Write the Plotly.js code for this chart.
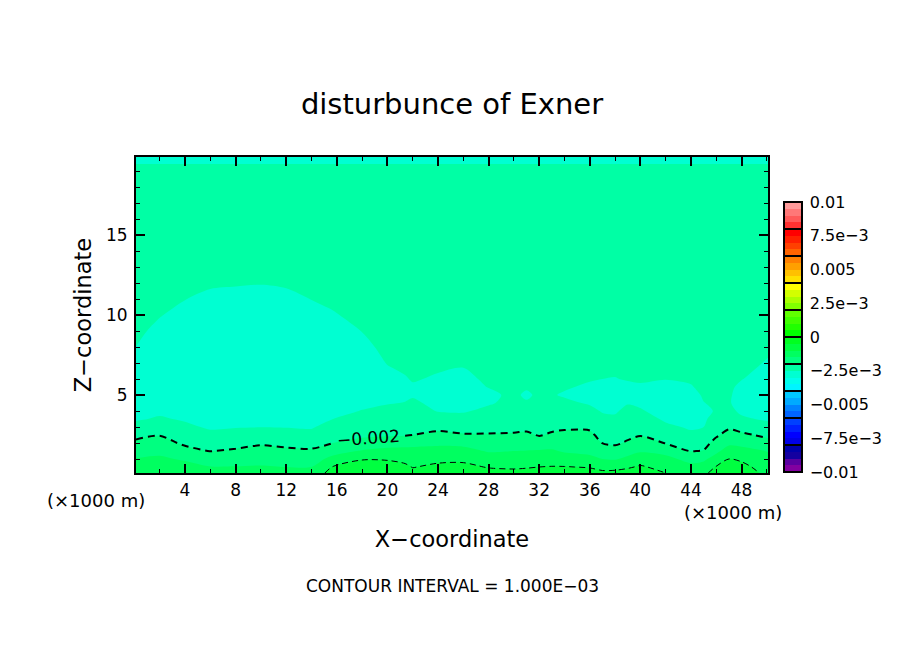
<!DOCTYPE html>
<html><head><meta charset="utf-8">
<script src="https://cdn.plot.ly/plotly-3.0.1.min.js"></script>
<style>html,body{margin:0;padding:0;background:#fff}</style></head>
<body><div id="chart" style="width:904px;height:654px"></div>
<script>
const xCoord = [0.125,2,4,6,8,10,12,14,15.7,18,20,21.4,22,24,26,28,30,31,32,33,34,36,37,38,39,40,42,44,45,46,47,48,50.09];
const zCoord = [0.125,0.5,1,1.5,2,2.5,3,3.5,4,4.5,5,5.5,6,7,8,9,10,11,12,13,16,19,19.875];
// Exner disturbance in units of 1e-4, one list per x position, bottom to top
const exnerColumns = [
[-11.1,-12.7,-14.8,-16.9,-19.0,-21.25,-23.75,-25.4,-26.2,-27,-27.3,-27.2,-26.8,-25.9,-25.02,-24.4,-24,-23.7,-23.5,-23.3,-22.8,-24,-26],
[-10.7,-12.2,-14.2,-16.2,-18.2,-20.2,-22.4,-24.6,-25.7,-26.5,-27.2,-27.6,-27.7,-27.3,-26.4,-25.7,-24.85,-24.3,-24.1,-23.7,-22.8,-24,-26],
[-11.5,-13.2,-15.6,-18.5,-20.8,-22.5,-24.2,-25.4,-26.2,-26.9,-27.5,-27.9,-28,-28,-27.4,-26.7,-25.9,-24.95,-24.4,-24,-22.8,-24,-26],
[-13.3,-14.8,-17.4,-20.1,-22,-24,-25.5,-26.3,-27,-27.5,-27.9,-28.2,-28.4,-28.5,-28,-27.2,-26.3,-25.5,-24.7,-24.1,-22.8,-24,-26],
[-13.3,-14.8,-17.1,-19.4,-21.5,-23.4,-25.2,-26.1,-26.8,-27.4,-27.9,-28.2,-28.5,-28.6,-28.2,-27.4,-26.5,-25.7,-24.8,-24.1,-22.8,-24,-26],
[-13.1,-14.6,-16.6,-18.5,-20.6,-22.9,-25.1,-26,-26.7,-27.3,-27.8,-28.1,-28.4,-28.6,-28.2,-27.5,-26.6,-25.8,-24.9,-24.1,-22.8,-24,-26],
[-13.5,-15,-17.05,-19.1,-21.2,-23.3,-25.2,-26,-26.7,-27.2,-27.6,-27.9,-28.1,-28.2,-27.9,-27.2,-26.4,-25.6,-24.7,-24.1,-22.8,-24,-26],
[-13.5,-15,-17.2,-19.4,-21.5,-23.7,-25.4,-26.1,-26.6,-27,-27.3,-27.6,-27.7,-27.6,-27.2,-26.6,-25.8,-24.95,-24.4,-24,-22.8,-24,-26],
[-7.9,-9.75,-13.5,-16.9,-20,-21.7,-23.3,-25,-25.8,-26.5,-27,-27.3,-27.4,-27.1,-26.5,-25.9,-25.2,-24.5,-24.1,-23.7,-22.8,-24,-26],
[-6.2,-7.9,-10.3,-14.6,-18.5,-20.8,-22.2,-23.5,-24.9,-25.6,-26.1,-26.4,-26.5,-26.3,-25.7,-24.95,-24.3,-23.9,-23.5,-23.3,-22.8,-24,-26],
[-6.4,-8.1,-10.4,-13.5,-17.3,-20.5,-21.7,-22.9,-24.1,-25.2,-25.8,-25.8,-25.7,-24.9,-24.3,-23.8,-23.5,-23.4,-23.3,-23.2,-22.8,-24,-26],
[-7.4,-9.1,-11.2,-13.6,-16.6,-20.3,-21.5,-22.7,-23.8,-24.9,-25.5,-25.6,-25.2,-24.4,-24,-23.8,-23.5,-23.4,-23.3,-23.2,-22.8,-24,-26],
[-8.6,-10.2,-12,-13.75,-16.2,-20,-21.1,-22.3,-23.4,-24.5,-25.3,-25.3,-24.8,-24.2,-23.9,-23.7,-23.5,-23.4,-23.3,-23.2,-22.8,-24,-26],
[-7.2,-9,-11.1,-13.4,-15.9,-18.8,-21.25,-23.3,-25.2,-25.8,-26,-25.8,-25.3,-24.5,-24.1,-23.8,-23.5,-23.4,-23.3,-23.2,-22.8,-24,-26],
[-7.1,-8.8,-11,-13.5,-16.3,-19.6,-21.85,-24,-25.3,-25.9,-26.2,-26.1,-25.7,-24.7,-24.2,-23.9,-23.6,-23.4,-23.3,-23.2,-22.8,-24,-26],
[-8.4,-10.3,-12.9,-15.4,-17.6,-19.7,-21.3,-22.8,-24.3,-25.3,-25.7,-24.9,-24.5,-24.1,-23.9,-23.7,-23.5,-23.4,-23.3,-23.2,-22.8,-24,-26],
[-8.7,-10.65,-12.8,-15,-17.55,-19.6,-21,-22.1,-23.1,-24.2,-24.3,-24.2,-24.1,-23.9,-23.8,-23.7,-23.5,-23.4,-23.3,-23.2,-22.8,-24,-26],
[-8.4,-10.4,-12.6,-14.8,-17.4,-19.3,-20.9,-22,-23,-24.6,-25.6,-24.6,-24.1,-23.9,-23.8,-23.7,-23.5,-23.4,-23.3,-23.2,-22.8,-24,-26],
[-8.3,-10,-12.3,-14.6,-17.7,-20.3,-21.4,-22.4,-23.3,-24,-24.3,-24.2,-24.1,-23.9,-23.8,-23.7,-23.5,-23.4,-23.3,-23.2,-22.8,-24,-26],
[-8,-9.8,-12.1,-14.5,-16.8,-19.4,-21,-22.2,-23.2,-24,-24.7,-24.4,-24.1,-23.9,-23.8,-23.7,-23.5,-23.4,-23.3,-23.2,-22.8,-24,-26],
[-7.9,-9.8,-12.8,-15.5,-17.3,-19,-20.6,-21.9,-23,-24.2,-25.4,-24.6,-24.1,-23.9,-23.8,-23.7,-23.5,-23.4,-23.3,-23.2,-22.8,-24,-26],
[-8.4,-10.3,-13.9,-16.1,-17.6,-19.1,-20.7,-22.4,-24,-25.4,-25.8,-25.6,-24.7,-24.1,-23.9,-23.7,-23.5,-23.4,-23.3,-23.2,-22.8,-24,-26],
[-9,-11.4,-15,-17.55,-20.1,-21.4,-22.7,-24.1,-25.3,-25.9,-26.1,-25.9,-25,-24.2,-24,-23.7,-23.5,-23.4,-23.3,-23.2,-22.8,-24,-26],
[-8.9,-11.3,-15.4,-18.5,-20.6,-21.9,-23.1,-24.4,-25.4,-25.9,-26.2,-26,-25.1,-24.3,-24,-23.7,-23.5,-23.4,-23.3,-23.2,-22.8,-24,-26],
[-8.1,-10.6,-13.9,-16.8,-19.5,-20.9,-22,-23.1,-24.1,-25.2,-25.8,-25.6,-24.8,-24.2,-24,-23.7,-23.5,-23.4,-23.3,-23.2,-22.8,-24,-26],
[-7.9,-9.4,-12.5,-15.5,-18,-20.3,-21.8,-23.2,-24.7,-25.5,-25.8,-25.3,-24.7,-24.2,-24,-23.7,-23.5,-23.4,-23.3,-23.2,-22.8,-24,-26],
[-10,-11.6,-13.7,-16.5,-20.2,-22.2,-24.2,-25.6,-26.2,-26.5,-26.5,-25.9,-24.9,-24.3,-24,-23.7,-23.5,-23.4,-23.3,-23.2,-22.8,-24,-26],
[-11.7,-13.6,-16.5,-20.2,-22.2,-24.2,-25.5,-26.1,-26.5,-26.6,-26.2,-25.2,-24.6,-24.2,-24,-23.7,-23.5,-23.4,-23.3,-23.2,-22.8,-24,-26],
[-11.2,-13.2,-15.8,-19.8,-21.6,-23.3,-25,-25.7,-25.8,-25.1,-24.6,-24.3,-24.2,-24.1,-24,-23.7,-23.5,-23.4,-23.3,-23.2,-22.8,-24,-26],
[-7.9,-9.7,-13,-16,-18.5,-20.6,-22,-23.3,-24.7,-24.4,-24.2,-24.1,-24,-23.9,-23.9,-23.7,-23.5,-23.4,-23.3,-23.2,-22.8,-24,-26],
[-6.5,-8,-10,-13,-15.9,-18.5,-20.6,-22.6,-24.2,-24.8,-24.7,-24.5,-24.2,-23.9,-23.9,-23.7,-23.5,-23.4,-23.3,-23.2,-22.8,-24,-26],
[-6.9,-8.5,-10.8,-13.5,-16.3,-19.1,-21.8,-24.5,-25.6,-25.9,-25.9,-25.6,-24.9,-24.3,-24,-23.7,-23.5,-23.4,-23.3,-23.2,-22.8,-24,-26],
[-11.5,-12.5,-13.8,-15.2,-18.3,-21.1,-23.7,-25.5,-26.2,-26.7,-27,-26.8,-26.3,-25.2,-24.6,-24.2,-24,-23.7,-23.5,-23.3,-22.8,-24,-26]
];
const bandColors = [
'rgb(130,0,160)','rgb(90,0,160)','rgb(20,0,160)','rgb(0,0,170)',
'rgb(0,0,230)','rgb(0,0,255)','rgb(0,32,255)','rgb(0,64,255)',
'rgb(0,100,255)','rgb(0,130,255)','rgb(0,170,255)','rgb(0,200,255)',
'rgb(0,245,255)','rgb(0,255,235)','rgb(0,255,210)','rgb(0,255,165)',
'rgb(0,255,128)','rgb(0,255,96)','rgb(0,255,64)','rgb(0,255,32)',
'rgb(0,255,0)','rgb(32,255,0)','rgb(64,255,0)','rgb(96,255,0)',
'rgb(128,255,0)','rgb(170,255,0)','rgb(210,255,0)','rgb(255,255,0)',
'rgb(255,224,0)','rgb(255,192,0)','rgb(255,160,0)','rgb(255,128,0)',
'rgb(255,100,0)','rgb(255,64,0)','rgb(255,32,0)','rgb(255,0,0)',
'rgb(255,50,50)','rgb(255,90,90)','rgb(255,120,120)','rgb(255,155,155)'
];
const labelTicks = [-0.01,-0.0075,-0.005,-0.0025,0,0.0025,0.005,0.0075,0.01];
const labelText = ['\u22120.01','\u22127.5e\u22123','\u22120.005','\u22122.5e\u22123','0','2.5e\u22123','0.005','7.5e\u22123','0.01'];
const separatorTicks = [-0.008,-0.006,-0.004,-0.002,0,0.002,0.004,0.006,0.008];
const contourLabelText = '\u22120.002';

const FONT = 'DejaVu Sans';
const exner = exnerColumns.map(c => c.map(v => v * 1e-4));
const scale = [];
bandColors.forEach((c, i) => { scale.push([i / bandColors.length, c]); scale.push([(i + 1) / bandColors.length, c]); });

const fillBase = {
  type: 'contour', x: xCoord, y: zCoord, z: exner, transpose: true,
  autocontour: false, contours: {start: -0.01, end: 0.01, size: 0.0005, coloring: 'fill', showlines: false},
  line: {width: 0, smoothing: 0.85}, colorscale: scale, zmin: -0.01, zmax: 0.01, hoverinfo: 'skip'
};
const barGeom = {
  thickness: 18, thicknessmode: 'pixels', len: 270, lenmode: 'pixels',
  xref: 'paper', yref: 'paper', x: 1.0253, xanchor: 'left', y: 0.003, yanchor: 'bottom',
  xpad: 0, ypad: 0, outlinecolor: '#000', outlinewidth: 2
};
function lineTrace(level, width, dash, from, to) {
  return {type: 'contour', x: xCoord.slice(from, to), y: zCoord, z: exner.slice(from, to), transpose: true,
    showscale: false, hoverinfo: 'skip', autocontour: false,
    contours: {start: level, end: level, size: 0.001, coloring: 'none'},
    line: {color: '#000', width: width, dash: dash, smoothing: 0.85}};
}
const gapStart = xCoord.indexOf(15.7) + 1, gapEnd = xCoord.indexOf(21.4);
const traces = [
  Object.assign({}, fillBase, {colorbar: Object.assign({}, barGeom, {
    tickmode: 'array', tickvals: labelTicks, ticktext: labelText, ticks: 'outside', ticklen: 4, tickcolor: 'rgba(0,0,0,0)',
    tickfont: {family: FONT, size: 16, color: '#000'}
  })}),
  Object.assign({}, fillBase, {colorbar: Object.assign({}, barGeom, {
    tickmode: 'array', tickvals: separatorTicks, ticktext: separatorTicks.map(() => ''),
    ticks: 'inside', ticklen: 18, tickwidth: 2, tickcolor: '#000'
  })}),
  lineTrace(-0.002, 2, '7px,5px', 0, gapStart),
  lineTrace(-0.002, 2, '7px,5px', gapEnd, xCoord.length),
  lineTrace(-0.001, 1, '6px,4px', 0, xCoord.length)
];
const axisCommon = {
  showgrid: false, zeroline: false, showline: true, linecolor: '#000', linewidth: 2, mirror: 'ticks',
  ticks: 'inside', ticklen: 9, tickwidth: 2, tickcolor: '#000',
  tickfont: {family: FONT, size: 17, color: '#000'}
};
const layout = {
  width: 904, height: 654, autosize: false, paper_bgcolor: '#fff', plot_bgcolor: '#fff', showlegend: false,
  margin: {l: 136, r: 136, t: 157, b: 181},
  title: {text: 'disturbunce of Exner', font: {family: FONT, size: 29, color: '#000'},
    x: 452 / 904, xanchor: 'center', xref: 'container', y: 1 - 104 / 654, yanchor: 'middle', yref: 'container'},
  xaxis: Object.assign({}, axisCommon, {range: [0.125, 50.09], tick0: 0, dtick: 4, ticklabelstandoff: 1,
    minor: {dtick: 2, ticks: 'inside', ticklen: 4, tickwidth: 1, tickcolor: '#000'},
    title: {text: 'X\u2212coordinate', font: {family: FONT, size: 22.5, color: '#000'}, standoff: 32}}),
  yaxis: Object.assign({}, axisCommon, {range: [0.125, 19.875], tick0: 0, dtick: 5, ticklabelstandoff: 3,
    minor: {dtick: 1, ticks: 'inside', ticklen: 4, tickwidth: 1, tickcolor: '#000'},
    title: {text: 'Z\u2212coordinate', font: {family: FONT, size: 22.5, color: '#000'}, standoff: 8}}),
  annotations: [
    {text: contourLabelText, xref: 'x', yref: 'y', x: 18.5, y: 2.3, showarrow: false, textangle: -4,
     font: {family: FONT, size: 17, color: '#000'}, xanchor: 'center', yanchor: 'middle'},
    {text: '(\u00d71000 m)', xref: 'paper', yref: 'paper', x: 0, y: 0, xshift: -40.5, yshift: -27, showarrow: false,
     font: {family: FONT, size: 18, color: '#000'}, xanchor: 'center', yanchor: 'middle'},
    {text: '(\u00d71000 m)', xref: 'paper', yref: 'paper', x: 1, y: 0, xshift: -35, yshift: -39, showarrow: false,
     font: {family: FONT, size: 18, color: '#000'}, xanchor: 'center', yanchor: 'middle'},
    {text: 'CONTOUR INTERVAL = 1.000E\u221203', xref: 'paper', yref: 'paper', x: 0.5, y: 0, yshift: -113, showarrow: false,
     font: {family: FONT, size: 17, color: '#000'}, xanchor: 'center', yanchor: 'middle'}
  ]
};
Plotly.newPlot('chart', traces, layout, {displayModeBar: false, responsive: false});
</script></body></html>
